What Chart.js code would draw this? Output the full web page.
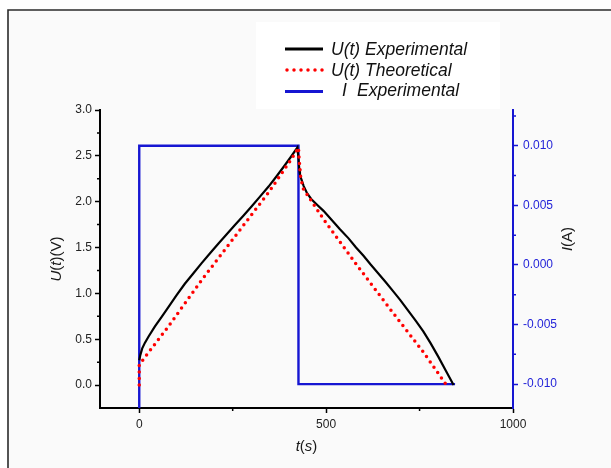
<!DOCTYPE html>
<html>
<head>
<meta charset="utf-8">
<script src="https://cdn.jsdelivr.net/npm/chart.js@4/dist/chart.umd.min.js"></script>
<style>
    html, body { margin: 0; padding: 0; background: #fff; }
    #wrap { width: 611px; height: 468px; }
</style>
</head>
<body>
<div id="wrap"><canvas id="chart" width="611" height="468"></canvas></div>
<script>
// U(t) measured during charge (I = +10 mA) then discharge (I = -10 mA)
const tExp = [0, 3, 8, 15, 25, 42, 60, 78, 100, 122, 145, 167, 190, 212, 234, 256, 278, 301, 323, 346, 368, 390, 406, 423,
              426, 428, 430, 434, 440, 448, 460, 475, 493, 515, 537, 560, 580, 600, 618, 638, 658, 678, 698, 720, 740, 760, 779, 800, 820, 841];
const uExp = [0.27, 0.33, 0.40, 0.46, 0.53, 0.64, 0.745, 0.85, 0.98, 1.105, 1.22, 1.33, 1.44, 1.545, 1.645, 1.745, 1.845, 1.95, 2.055, 2.165, 2.28, 2.40, 2.49, 2.59,
              2.48, 2.36, 2.30, 2.24, 2.17, 2.10, 2.03, 1.97, 1.90, 1.80, 1.70, 1.60, 1.50, 1.41, 1.32, 1.225, 1.13, 1.03, 0.93, 0.81, 0.70, 0.585, 0.46, 0.31, 0.16, 0.0];

// U(t) from the model
const tTheo = [0, 0, 20, 78, 167, 256, 346, 408, 426, 428, 432, 439, 493, 582, 671, 760, 822];
const uTheo = [0.0, 0.22, 0.33, 0.64, 1.145, 1.62, 2.10, 2.47, 2.59, 2.45, 2.26, 2.14, 1.81, 1.31, 0.83, 0.36, 0.0];

// applied current
const tCur = [0, 0, 426, 426, 845];
const iCur = [-0.012, 0.010, 0.010, -0.010, -0.010];

const tTicks = [0, 500, 1000];
const tMinor = [250, 750];
const uTicks = [0, 0.5, 1.0, 1.5, 2.0, 2.5, 3.0];
const uMinor = [0.25, 0.75, 1.25, 1.75, 2.25, 2.75];
const iTicks = [-0.010, -0.005, 0, 0.005, 0.010];
const iMinor = [-0.0075, -0.0025, 0.0025, 0.0075, 0.0125];

const seriesNames = ['U(t) Experimental', 'U(t) Theoretical', 'I  Experimental'];

const FONT = "'Liberation Sans', Arial, sans-serif";
const BLUE = '#1616d2';
const BLUE_TEXT = '#2424d8';

Chart.defaults.font.family = FONT;
Chart.defaults.font.size = 12;

const toPoints = (xs, ys) => xs.map((x, i) => ({x: x, y: ys[i]}));

// text made of upright / italic pieces, centred on (x, y)
function drawRich(ctx, parts, x, y, angle, size) {
    ctx.save();
    ctx.translate(x, y);
    ctx.rotate(angle);
    ctx.textBaseline = 'middle';
    ctx.textAlign = 'left';
    let total = 0;
    const widths = parts.map(([txt, it]) => {
        ctx.font = (it ? 'italic ' : '') + size + 'px ' + FONT;
        const w = ctx.measureText(txt).width;
        total += w;
        return w;
    });
    let cx = -total / 2;
    parts.forEach(([txt, it], i) => {
        ctx.font = (it ? 'italic ' : '') + size + 'px ' + FONT;
        ctx.fillText(txt, cx, 0);
        cx += widths[i];
    });
    ctx.restore();
}

const framePlugin = {
    id: 'frame',
    beforeDraw(chart) {
        const ctx = chart.ctx;
        ctx.save();
        ctx.fillStyle = '#ffffff';
        ctx.fillRect(0, 0, chart.width, chart.height);
        ctx.fillStyle = '#fafafa';
        ctx.fillRect(8, 10, chart.width - 8, chart.height - 10);
        ctx.strokeStyle = '#2b2b2b';
        ctx.lineWidth = 1.6;
        ctx.beginPath();
        ctx.moveTo(8, chart.height);
        ctx.lineTo(8, 10);
        ctx.lineTo(chart.width, 10);
        ctx.stroke();
        // legend panel
        ctx.fillStyle = '#ffffff';
        ctx.fillRect(256, 22, 244, 87);
        ctx.restore();
    }
};

const decorPlugin = {
    id: 'decor',
    afterDraw(chart) {
        const ctx = chart.ctx;
        const area = chart.chartArea;
        const sx = chart.scales.x, sy = chart.scales.y, sy1 = chart.scales.y1;

        // minor ticks
        ctx.save();
        ctx.lineWidth = 1.5;
        ctx.strokeStyle = '#000';
        ctx.beginPath();
        tMinor.forEach(v => {
            const px = sx.getPixelForValue(v);
            ctx.moveTo(px, area.bottom);
            ctx.lineTo(px, area.bottom + 3);
        });
        uMinor.forEach(v => {
            const py = sy.getPixelForValue(v);
            ctx.moveTo(area.left, py);
            ctx.lineTo(area.left - 3, py);
        });
        ctx.stroke();
        ctx.strokeStyle = BLUE;
        ctx.beginPath();
        iMinor.forEach(v => {
            const py = sy1.getPixelForValue(v);
            ctx.moveTo(area.right, py);
            ctx.lineTo(area.right + 3, py);
        });
        ctx.stroke();
        ctx.restore();

        // axis titles
        ctx.save();
        ctx.fillStyle = '#1a1a1a';
        drawRich(ctx, [['t', true], ['(', false], ['s', true], [')', false]],
            (area.left + area.right) / 2, 447, 0, 15);
        drawRich(ctx, [['U', true], ['(', false], ['t', true], [')(V)', false]],
            57, (area.top + area.bottom) / 2, -Math.PI / 2, 15);
        drawRich(ctx, [['I', true], ['(A)', false]],
            568, 239, -Math.PI / 2, 15);
        ctx.restore();

        // legend
        const rows = [49, 70, 91.5];
        ctx.save();
        chart.data.datasets.forEach((ds, i) => {
            const y = rows[i];
            ctx.strokeStyle = ds.borderColor;
            ctx.lineWidth = ds.borderDash ? 3.5 : 3;
            ctx.lineCap = ds.borderDash ? 'round' : 'butt';
            ctx.setLineDash(ds.borderDash ? [0, 7] : []);
            ctx.beginPath();
            ctx.moveTo(ds.borderDash ? 287 : 285, y);
            ctx.lineTo(323, y);
            ctx.stroke();
            ctx.setLineDash([]);
            ctx.fillStyle = '#111';
            ctx.font = 'italic 17.5px ' + FONT;
            ctx.textBaseline = 'middle';
            ctx.textAlign = 'left';
            if (i === 2) {
                ctx.fillText('I', 342, y);
                ctx.fillText('Experimental', 357, y);
            } else {
                ctx.fillText(seriesNames[i], 331, y + 1);
            }
        });
        ctx.restore();
    }
};

const fixTicks = list => scale => { scale.ticks = list.map(v => ({value: v})); };

new Chart(document.getElementById('chart'), {
    type: 'line',
    data: {
        datasets: [
            {
                label: seriesNames[0],
                data: toPoints(tExp, uExp),
                borderColor: '#000000',
                borderWidth: 2.2,
                yAxisID: 'y',
                order: 2
            },
            {
                label: seriesNames[1],
                data: toPoints(tTheo, uTheo),
                borderColor: '#ff0000',
                borderWidth: 3.5,
                borderDash: [0, 6.5],
                borderCapStyle: 'round',
                yAxisID: 'y',
                order: 1
            },
            {
                label: seriesNames[2],
                data: toPoints(tCur, iCur),
                borderColor: BLUE,
                borderWidth: 2.4,
                yAxisID: 'y1',
                order: 3
            }
        ]
    },
    options: {
        responsive: false,
        devicePixelRatio: 1,
        animation: false,
        layout: {padding: {top: 110, left: 0, right: 0, bottom: 0}},
        elements: {
            point: {radius: 0, hoverRadius: 0},
            line: {tension: 0, fill: false}
        },
        scales: {
            x: {
                type: 'linear',
                position: 'bottom',
                min: -105,
                max: 1000,
                afterBuildTicks: fixTicks(tTicks),
                afterFit: s => { s.height = 60; },
                border: {color: '#000', width: 2},
                grid: {drawOnChartArea: false, drawTicks: true, tickLength: 5, tickColor: '#000', tickWidth: 1.5},
                ticks: {color: '#222', padding: 4, maxRotation: 0, autoSkip: false, callback: v => String(v)}
            },
            y: {
                type: 'linear',
                position: 'left',
                min: -0.25,
                max: 3.0,
                afterBuildTicks: fixTicks(uTicks),
                afterFit: s => { s.width = 100; },
                border: {color: '#000', width: 2},
                grid: {drawOnChartArea: false, drawTicks: true, tickLength: 5, tickColor: '#000', tickWidth: 1.5},
                ticks: {color: '#222', padding: 3, autoSkip: false, callback: v => v.toFixed(1)}
            },
            y1: {
                type: 'linear',
                position: 'right',
                min: -0.012,
                max: 0.013,
                afterBuildTicks: fixTicks(iTicks),
                afterFit: s => { s.width = 98; },
                border: {color: BLUE, width: 2},
                grid: {drawOnChartArea: false, drawTicks: true, tickLength: 5, tickColor: BLUE, tickWidth: 1.5},
                ticks: {color: BLUE_TEXT, padding: 5, autoSkip: false, callback: v => v.toFixed(3)}
            }
        },
        plugins: {
            legend: {display: false},
            tooltip: {enabled: false}
        }
    },
    plugins: [framePlugin, decorPlugin]
});
</script>
</body>
</html>
